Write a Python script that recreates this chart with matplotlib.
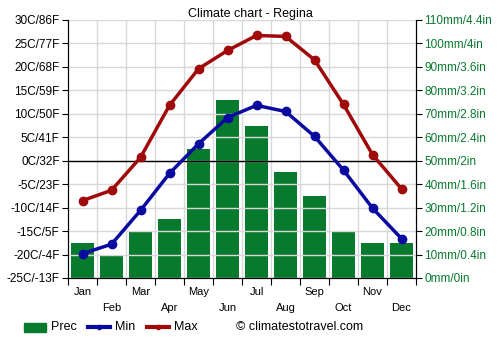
import matplotlib
matplotlib.use("Agg")
import matplotlib.pyplot as plt
from matplotlib.lines import Line2D
from matplotlib.patches import Rectangle
import numpy as np

months = ["Jan", "Feb", "Mar", "Apr", "May", "Jun", "Jul", "Aug", "Sep", "Oct", "Nov", "Dec"]
prec = [15, 10, 20, 25, 55, 76, 65, 45, 35, 20, 15, 15]
tmin = [-19.8, -17.8, -10.6, -2.7, 3.6, 9.2, 11.8, 10.5, 5.2, -2.0, -10.1, -16.6]
tmax = [-8.5, -6.3, 0.7, 11.8, 19.6, 23.5, 26.7, 26.5, 21.5, 12.0, 1.3, -6.0]
left_labels = ["-25C/-13F", "-20C/-4F", "-15C/5F", "-10C/14F", "-5C/23F", "0C/32F",
               "5C/41F", "10C/50F", "15C/59F", "20C/68F", "25C/77F", "30C/86F"]
right_labels = ["0mm/0in", "10mm/0.4in", "20mm/0.8in", "30mm/1.2in", "40mm/1.6in", "50mm/2in",
                "60mm/2.4in", "70mm/2.8in", "80mm/3.2in", "90mm/3.6in", "100mm/4in", "110mm/4.4in"]

plt.rcParams['font.family'] = ['Liberation Sans', 'DejaVu Sans']
W, H = 500, 350
fig = plt.figure(figsize=(5, 3.5), dpi=100)
ax = fig.add_axes([68 / W, 1 - 278 / H, 348 / W, 258 / H])
ax2 = ax.twinx()

x = np.arange(12)
green = "#087a2e"
red = "#a00a0a"
blue = "#0a0aa0"

ax2.bar(x, prec, width=0.8, color=green, zorder=2)
ax2.set_ylim(0, 110)
ax.set_ylim(-25, 30)
ax.set_xlim(-0.5, 11.5)

for yy in range(-25, 31, 5):
    ax.axhline(yy, color="#d8d8d8", lw=1, zorder=0)
for xx in np.arange(0.5, 11.5, 1):
    ax.axvline(xx, color="#d8d8d8", lw=1, zorder=0)

ax.set_zorder(ax2.get_zorder() + 1)
ax.patch.set_visible(False)

ax.axhline(0, color="black", lw=1, zorder=3)
ax.plot(x, tmax, color=red, lw=2.5, marker="o", ms=6, zorder=5)
ax.plot(x, tmin, color=blue, lw=2.5, marker="o", ms=6, zorder=5)

ax.set_yticks(range(-25, 31, 5))
ax.set_yticklabels(left_labels, fontsize=8.5)
ax2.set_yticks(range(0, 111, 10))
ax2.set_yticklabels(right_labels, fontsize=8.5, color=green)
ax.tick_params(axis='y', length=4, pad=2)
ax2.tick_params(axis='y', length=4, pad=2)

ax.set_xticks(np.arange(-0.5, 12, 1))
ax.set_xticklabels([])
ax.tick_params(axis='x', length=5)
for i, m in enumerate(months):
    yoff = -0.035 if i % 2 == 0 else -0.095
    ax.text(i, yoff, m, transform=ax.get_xaxis_transform(), ha="center", va="top", fontsize=8)

for a in (ax, ax2):
    a.spines['top'].set_visible(False)

fig.text(0.5, 1 - 14 / H, "Climate chart - Regina", ha="center", va="center", fontsize=9)

ly = 1 - 327 / H
fig.patches.append(Rectangle((24 / W, ly - 4.5 / H), 22 / W, 9 / H, transform=fig.transFigure,
                             color=green))
fig.text(51 / W, ly, "Prec", ha="left", va="center", fontsize=9)
fig.lines.append(Line2D([88 / W, 110 / W], [ly, ly], transform=fig.transFigure, color=blue, lw=3))
fig.lines.append(Line2D([99 / W], [ly], transform=fig.transFigure, color=blue, marker="o", ms=3))
fig.text(115 / W, ly, "Min", ha="left", va="center", fontsize=9)
fig.lines.append(Line2D([147 / W, 169 / W], [ly, ly], transform=fig.transFigure, color=red, lw=3))
fig.lines.append(Line2D([158 / W], [ly], transform=fig.transFigure, color=red, marker="o", ms=3))
fig.text(174 / W, ly, "Max", ha="left", va="center", fontsize=9)
fig.text(236 / W, ly, "© climatestotravel.com", ha="left", va="center", fontsize=9)

fig.savefig("out.png", dpi=100)
